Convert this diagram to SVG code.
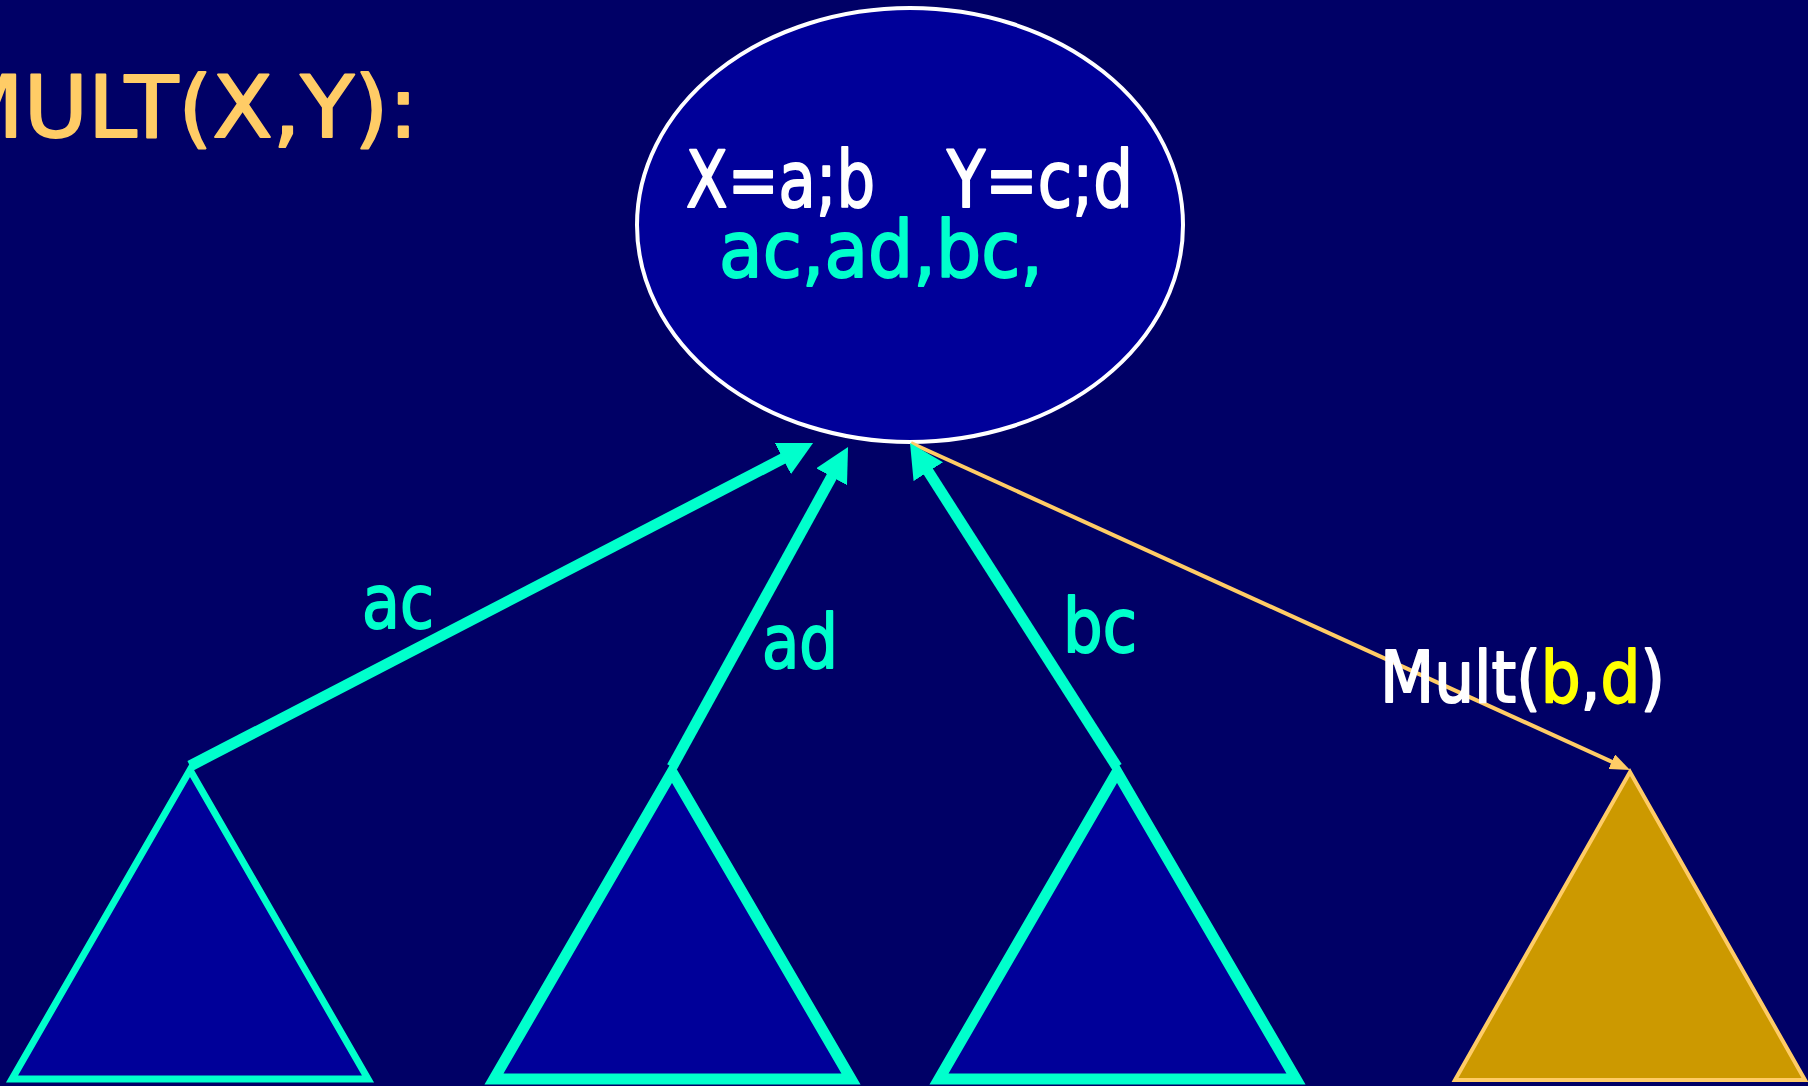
<svg xmlns="http://www.w3.org/2000/svg" width="1808" height="1086" viewBox="0 0 1808 1086">
  <style>
    .t { font-family: "DejaVu Sans", "Open Sans", sans-serif; stroke-width: 2; stroke-linejoin: round; }
    .title { fill: #FFCC66; stroke: #FFCC66; font-size: 86px; }
    .white { fill: #FFFFFF; stroke: #FFFFFF; }
    .cyan { fill: #00FFCC; stroke: #00FFCC; }
    .yellow { fill: #FFFF00; stroke: #FFFF00; }
    .tri-blue { fill: #000099; stroke: #00FFCC; stroke-linejoin: miter; }
    .tri-gold { fill: #CC9900; stroke: #FFCC66; stroke-width: 4; }
    .edge-cyan { stroke: #00FFCC; stroke-width: 11; fill: none; marker-end: url(#headCyan); }
    .edge-gold { stroke: #FFCC66; stroke-width: 4; fill: none; marker-end: url(#headGold); }
  </style>
  <defs>
    <marker id="headCyan" markerUnits="userSpaceOnUse" viewBox="0 0 34 35" markerWidth="34" markerHeight="35" refX="14" refY="17.5" orient="auto">
      <path d="M0,0 L34,17.5 L0,35 Z" fill="#00FFCC"/>
    </marker>
    <marker id="headGold" markerUnits="userSpaceOnUse" viewBox="0 0 20 16" markerWidth="20" markerHeight="16" refX="12" refY="8" orient="auto">
      <path d="M0,0 L20,8 L0,16 Z" fill="#FFCC66"/>
    </marker>
  </defs>

  <!-- slide background -->
  <rect x="0" y="0" width="1808" height="1086" fill="#000066"/>

  <!-- heading (runs off the left edge) -->
  <g id="title">
    <text class="t title" x="-52" y="137" textLength="470" lengthAdjust="spacingAndGlyphs">MULT(X,Y):</text>
  </g>

  <!-- root call -->
  <g id="node-root">
    <ellipse cx="910" cy="225" rx="273" ry="217" fill="#000099" stroke="#FFFFFF" stroke-width="4"/>
    <text class="t white" x="686" y="207" font-size="78" textLength="189" lengthAdjust="spacingAndGlyphs">X=a;b</text>
    <text class="t white" x="947" y="207" font-size="78" textLength="186" lengthAdjust="spacingAndGlyphs">Y=c;d</text>
    <text class="t cyan" x="719" y="277" font-size="78" textLength="324" lengthAdjust="spacingAndGlyphs">ac,ad,bc,</text>
  </g>

  <!-- recursive sub-calls -->
  <g id="node-ac">
    <polygon class="tri-blue" stroke-width="7" points="190,770 12,1079 368,1079"/>
  </g>
  <g id="node-ad">
    <polygon class="tri-blue" stroke-width="11" points="672,772 494,1079 851,1079"/>
  </g>
  <g id="node-bc">
    <polygon class="tri-blue" stroke-width="11" points="1117,772 939,1079 1296,1079"/>
  </g>
  <g id="node-bd">
    <polygon class="tri-gold" points="1630,772 1455,1080 1805,1080"/>
  </g>

  <!-- connectors -->
  <g id="connectors">
    <line class="edge-gold" x1="911" y1="443" x2="1622.7" y2="766.7"/>
    <line class="edge-cyan" x1="190" y1="766" x2="795.3" y2="452.2"/>
    <line class="edge-cyan" x1="672" y1="767" x2="838.4" y2="464.5"/>
    <line class="edge-cyan" x1="1117" y1="767" x2="920.8" y2="459.9"/>
  </g>

  <!-- connector labels -->
  <g id="edge-labels">
    <text class="t cyan" x="362" y="628" font-size="74" textLength="72" lengthAdjust="spacingAndGlyphs">ac</text>
    <text class="t cyan" x="762" y="668" font-size="74" textLength="76" lengthAdjust="spacingAndGlyphs">ad</text>
    <text class="t cyan" x="1063" y="652" font-size="74" textLength="74" lengthAdjust="spacingAndGlyphs">bc</text>
    <text class="t white" x="1380" y="702" font-size="72" textLength="285" lengthAdjust="spacingAndGlyphs">Mult(<tspan class="yellow">b</tspan>,<tspan class="yellow">d</tspan>)</text>
  </g>
</svg>
